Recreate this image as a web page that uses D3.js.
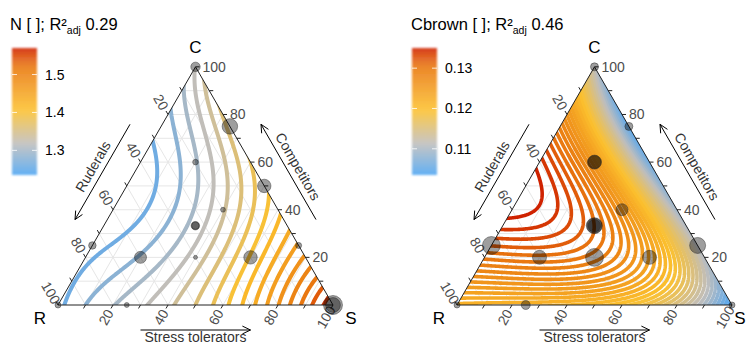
<!DOCTYPE html>
<html>
<head>
<meta charset="utf-8">
<script src="https://cdn.jsdelivr.net/npm/d3@7"></script>
<style>
  body { margin: 0; background: #fff; }
  svg { display: block; font-family: "Liberation Sans", Arial, sans-serif; }
</style>
</head>
<body>
<svg id="chart" width="749" height="347"></svg>
<script>
// Fitted Scheffé quartic mixture models. Coefficients follow the term order
// R, S, C, RS, RC, SC, RS(R−S), RC(R−C), SC(S−C),
// RS(R−S)², RC(R−C)², SC(S−C)², R²SC, RS²C, RSC²
const nCoefficients = [
  1.2526, 1.576, 1.3212, -0.21699, -0.15528, -0.21989, 0.073143, 0.10857,
  -0.16484, 0.16066, 0.072531, 0.15526, -0.55672, 0.97251, -1.102
];
const cbrownCoefficients = [
  0.12174, 0.10303, 0.11122, 0.032396, 0.077669, -0.001026, -0.022165, -0.010394,
  0.053855, 0.0068377, -0.013717, 0.0068734, 0.069318, 0.20721, 0.2787
];

// contour levels: [first, last, step]
const nLevels      = [1.26, 1.56, 0.02];
const cbrownLevels = [0.104, 0.135, 0.001];

// colour bar extents and labelled ticks
const nLegendDomain      = [1.235, 1.57];
const cbrownLegendDomain = [0.1035, 0.135];
const nLegendTicks      = [1.3, 1.4, 1.5];
const cbrownLegendTicks = [0.11, 0.12, 0.13];

// axis ticks (percent)
const minorTicks = [10, 20, 30, 40, 50, 60, 70, 80, 90, 100];
const axisLabels = [20, 40, 60, 80, 100];

// observed communities: R, S, C (%) and weight
const nObs = [
  [0, 0, 100, 22], [0, 25, 75, 60], [20, 20, 60, 8], [0, 50, 50, 45],
  [20, 40, 40, 6], [33.3, 33.3, 33.3, 18], [33.3, 33.3, 33.3, 14],
  [75, 0, 25, 14], [60, 20, 20, 36], [20, 60, 20, 45], [40, 40, 20, 4],
  [75, 25, 0, 6], [0, 100, 0, 90], [0, 100, 0, 55], [100, 0, 0, 9], [0, 75, 25, 9]
];
const cbrownObs = [
  [100, 0, 0, 9], [75, 25, 0, 20], [75, 0, 25, 80], [60, 20, 20, 49],
  [33.3, 33.3, 33.3, 64], [33.3, 33.3, 33.3, 56], [33.3, 33.3, 33.3, 40],
  [40, 40, 20, 80], [20, 40, 40, 36], [20, 60, 20, 49], [0, 75, 25, 64],
  [0, 100, 0, 9], [20, 20, 60, 49], [20, 20, 60, 42], [0, 25, 75, 16], [0, 0, 100, 16]
];

const svg = d3.select("#chart");
const side = 275, h = side * Math.sqrt(3) / 2;

const colorStops = ["#4ea5f2", "#c0bebb", "#fcc12e", "#e8730e", "#cf2200"];
const colorPos = [0, 0.25, 0.51, 0.87, 1];
function makeColor(domain) {
  const [a, b] = domain;
  return d3.scaleLinear()
    .domain(colorPos.map(t => a + (b - a) * t))
    .range(colorStops).interpolate(d3.interpolateRgb).clamp(true);
}

function basis(r, s, c) {
  return [r, s, c, r * s, r * c, s * c,
          r * s * (r - s), r * c * (r - c), s * c * (s - c),
          r * s * (r - s) * (r - s), r * c * (r - c) * (r - c), s * c * (s - c) * (s - c),
          r * r * s * c, r * s * s * c, r * s * c * c];
}
function model(k, r, s, c) {
  const x = basis(r, s, c);
  let v = 0;
  for (let i = 0; i < x.length; i++) v += k[i] * x[i];
  return v;
}

function drawTernary(cfg) {
  const o = cfg.origin;
  const toXY = (r, s, c) => [o.x + (s + c / 2) * side, o.y - c * h];
  const fromXY = (x, y) => { const c = (o.y - y) / h; const s = (x - o.x) / side - c / 2; return [1 - s - c, s, c]; };
  const R = toXY(1, 0, 0), S = toXY(0, 1, 0), C = toXY(0, 0, 1);
  const g = svg.append("g");
  const defs = svg.append("defs");

  // clip region
  const clipId = "clip-" + cfg.id;
  defs.append("clipPath").attr("id", clipId)
    .append("polygon").attr("points", [R, S, C].map(p => p.join(",")).join(" "));

  // background grid
  const grid = g.append("g").attr("stroke", "#e6e6e6").attr("stroke-width", 1).attr("fill", "none");
  minorTicks.filter(v => v < 100).forEach(v => {
    const k = v / 100;
    [[toXY(1 - k, k, 0), toXY(0, k, 1 - k)],
     [toXY(1 - k, 0, k), toXY(0, 1 - k, k)],
     [toXY(k, 1 - k, 0), toXY(k, 0, 1 - k)]].forEach(([p, q]) =>
      grid.append("line").attr("x1", p[0]).attr("y1", p[1]).attr("x2", q[0]).attr("y2", q[1]));
  });

  // contour lines of the fitted surface
  const color = makeColor(cfg.legendDomain);
  const x0 = Math.floor(o.x) - 4, y0 = Math.floor(o.y - h) - 4;
  const nx = Math.ceil(side) + 9, ny = Math.ceil(h) + 9;
  const values = new Float64Array(nx * ny);
  for (let j = 0; j < ny; j++) {
    for (let i = 0; i < nx; i++) {
      const [r, s, c] = fromXY(x0 + i + 0.5, y0 + j + 0.5);
      values[j * nx + i] = model(cfg.coef, r, s, c);
    }
  }
  const [l0, l1, step] = cfg.levels;
  const thresholds = d3.range(Math.round((l1 - l0) / step) + 1).map(i => +(l0 + i * step).toFixed(6));
  const contours = d3.contours().size([nx, ny]).thresholds(thresholds)(values);
  const path = d3.geoPath(d3.geoTransform({ point(x, y) { this.stream.point(x0 + x, y0 + y); } }));
  g.append("g").attr("clip-path", `url(#${clipId})`)
    .selectAll("path").data(contours).join("path")
    .attr("d", path).attr("fill", "none")
    .attr("stroke", d => color(d.value)).attr("stroke-width", cfg.lineWidth)
    .attr("stroke-linejoin", "round");

  // triangle outline
  g.append("polygon").attr("points", [R, S, C].map(p => p.join(",")).join(" "))
    .attr("fill", "none").attr("stroke", "#222").attr("stroke-width", 1);

  // ticks and tick labels
  const tickLen = 4, labOff = 14;
  const axes = [
    { at: v => toXY(1 - v / 100, v / 100, 0), dir: [-0.5, Math.sqrt(3) / 2], rot: -60, anchor: "middle" },   // S (bottom)
    { at: v => toXY(v / 100, 0, 1 - v / 100), dir: [-0.5, -Math.sqrt(3) / 2], rot: 60, anchor: "middle" },  // R (left)
    { at: v => toXY(0, 1 - v / 100, v / 100), dir: [1, 0], rot: 0, anchor: "start" }                        // C (right)
  ];
  const tg = g.append("g");
  axes.forEach(ax => {
    minorTicks.forEach(v => {
      const p = ax.at(v);
      tg.append("line").attr("x1", p[0]).attr("y1", p[1])
        .attr("x2", p[0] + ax.dir[0] * tickLen).attr("y2", p[1] + ax.dir[1] * tickLen)
        .attr("stroke", "#222").attr("stroke-width", 1);
    });
    axisLabels.forEach(v => {
      const p = ax.at(v);
      const off = ax.rot === 0 ? 7 : labOff;
      const lx = p[0] + ax.dir[0] * off, ly = p[1] + ax.dir[1] * off;
      tg.append("text").attr("x", lx).attr("y", ly)
        .attr("transform", ax.rot ? `rotate(${ax.rot},${lx},${ly})` : null)
        .attr("text-anchor", ax.anchor).attr("dominant-baseline", "central")
        .attr("font-size", 14).attr("fill", "#4d4d4d").text(v);
    });
  });

  // vertex letters
  [["R", R[0] - 18, R[1] + 13], ["S", Math.min(S[0] + 18, 740), S[1] + 13], ["C", C[0], C[1] - 19]].forEach(([t, x, y]) =>
    g.append("text").attr("x", x).attr("y", y).attr("text-anchor", "middle")
      .attr("dominant-baseline", "central").attr("font-size", 17).attr("fill", "#000").text(t));

  // axis arrows with titles
  const edgeArrows = [
    { a: R, b: S, n: [0, 1], d: 25, td: 32, rot: 0, text: "Stress tolerators" },
    { a: C, b: R, n: [-Math.sqrt(3) / 2, -0.5], d: 28, td: 39, rot: -60, text: "Ruderals" },
    { a: S, b: C, n: [Math.sqrt(3) / 2, -0.5], d: 28, td: 39, rot: 60, text: "Competitors" }
  ];
  edgeArrows.forEach(e => {
    const mx = (e.a[0] + e.b[0]) / 2, my = (e.a[1] + e.b[1]) / 2;
    const ux = (e.b[0] - e.a[0]) / side, uy = (e.b[1] - e.a[1]) / side;
    const half = 55;
    const cx = mx + e.n[0] * e.d, cy = my + e.n[1] * e.d;
    const p1 = [cx - ux * half, cy - uy * half], p2 = [cx + ux * half, cy + uy * half];
    const L = 9, ang = 0.45;
    const back = t => [p2[0] - L * (ux * Math.cos(t) - uy * Math.sin(t)), p2[1] - L * (uy * Math.cos(t) + ux * Math.sin(t))];
    const b1 = back(ang), b2 = back(-ang);
    g.append("path")
      .attr("d", `M${p1}L${p2}M${b1}L${p2}L${b2}`)
      .attr("fill", "none").attr("stroke", "#000").attr("stroke-width", 1);
    const tx = mx + e.n[0] * e.td, ty = my + e.n[1] * e.td;
    g.append("text").attr("x", tx).attr("y", ty)
      .attr("transform", e.rot ? `rotate(${e.rot},${tx},${ty})` : null)
      .attr("text-anchor", "middle").attr("dominant-baseline", "central")
      .attr("font-size", 14).attr("fill", "#333").text(e.text);
  });

  // observed points
  const rScale = d3.scaleSqrt().domain([0, 100]).range([0, 10]);
  g.append("g").selectAll("circle").data(cfg.obs).join("circle")
    .attr("cx", d => toXY(d[0] / 100, d[1] / 100, d[2] / 100)[0])
    .attr("cy", d => toXY(d[0] / 100, d[1] / 100, d[2] / 100)[1])
    .attr("r", d => rScale(d[3]))
    .attr("fill", "#000").attr("fill-opacity", 0.38)
    .attr("stroke", "#222").attr("stroke-opacity", 0.55).attr("stroke-width", 0.8);

  // title
  const title = svg.append("text").attr("x", cfg.titleX).attr("y", 30).attr("font-size", 16.5).attr("fill", "#000");
  title.append("tspan").text(cfg.title + " [ ]; R²");
  title.append("tspan").attr("font-size", 10.5).attr("dy", 4).text("adj");
  title.append("tspan").attr("dy", -4).text(" " + cfg.r2);

  // colour bar
  const lg = svg.append("g");
  const bx = cfg.legendX, bw = 25, by0 = 48, by1 = 175;
  const gradId = "grad-" + cfg.id, blurId = "blur-" + cfg.id;
  const grad = defs.append("linearGradient").attr("id", gradId).attr("x1", 0).attr("y1", 1).attr("x2", 0).attr("y2", 0);
  d3.range(21).forEach(i => {
    const t = i / 20;
    const v = cfg.legendDomain[0] + t * (cfg.legendDomain[1] - cfg.legendDomain[0]);
    grad.append("stop").attr("offset", t).attr("stop-color", color(v));
  });
  defs.append("filter").attr("id", blurId).attr("x", -0.3).attr("y", -0.1).attr("width", 1.6).attr("height", 1.2)
    .append("feGaussianBlur").attr("stdDeviation", 1.3);
  lg.append("rect").attr("x", bx).attr("y", by0).attr("width", bw).attr("height", by1 - by0)
    .attr("fill", `url(#${gradId})`).attr("fill-opacity", 0.88).attr("filter", `url(#${blurId})`);
  const ly = d3.scaleLinear().domain(cfg.legendDomain).range([by1, by0]);
  cfg.legendTicks.forEach(v => {
    const y = ly(v);
    lg.append("line").attr("x1", bx).attr("x2", bx + 5).attr("y1", y).attr("y2", y).attr("stroke", "#fff").attr("stroke-opacity", 0.8);
    lg.append("line").attr("x1", bx + bw - 5).attr("x2", bx + bw).attr("y1", y).attr("y2", y).attr("stroke", "#fff").attr("stroke-opacity", 0.8);
    lg.append("text").attr("x", bx + bw + 8).attr("y", y).attr("dominant-baseline", "central")
      .attr("font-size", 14).attr("fill", "#000").text(v);
  });
}

drawTernary({
  id: "n", origin: { x: 58, y: 305 }, coef: nCoefficients, levels: nLevels, lineWidth: 4,
  legendDomain: nLegendDomain, legendTicks: nLegendTicks, obs: nObs,
  title: "N", r2: "0.29", titleX: 10, legendX: 12
});
drawTernary({
  id: "cbrown", origin: { x: 457, y: 305 }, coef: cbrownCoefficients, levels: cbrownLevels, lineWidth: 3.6,
  legendDomain: cbrownLegendDomain, legendTicks: cbrownLegendTicks, obs: cbrownObs,
  title: "Cbrown", r2: "0.46", titleX: 411, legendX: 412
});
</script>
</body>
</html>
